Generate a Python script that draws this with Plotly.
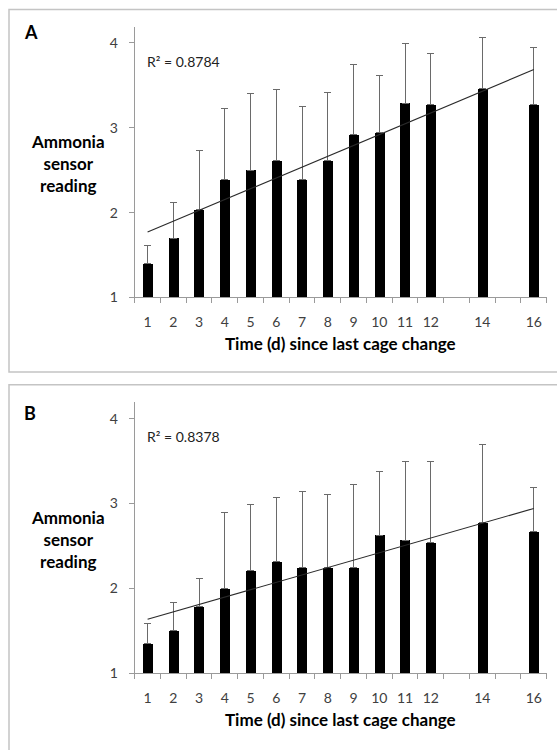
import numpy as np
import plotly.graph_objects as go

# ---- data ----
days = [1, 2, 3, 4, 5, 6, 7, 8, 9, 10, 11, 12, 14, 16]
tick_labels = [str(d) for d in days]

a_mean = [1.40, 1.70, 2.04, 2.39, 2.50, 2.61, 2.39, 2.61, 2.92, 2.94, 3.29, 3.27, 3.46, 3.27]
a_top = [1.61, 2.12, 2.73, 3.23, 3.40, 3.45, 3.25, 3.42, 3.75, 3.62, 3.99, 3.87, 4.06, 3.95]

b_mean = [1.35, 1.50, 1.79, 2.00, 2.21, 2.32, 2.25, 2.25, 2.25, 2.63, 2.57, 2.54, 2.78, 2.67]
b_top = [1.59, 1.83, 2.12, 2.90, 2.99, 3.07, 3.14, 3.11, 3.23, 3.38, 3.49, 3.50, 3.70, 3.19]

a_r2 = "R² = 0.8784"
b_r2 = "R² = 0.8378"
panel_labels = ["A", "B"]
x_title = "Time (d) since last cage change"
y_title = "Ammonia<br>sensor<br>reading"

W, H = 557, 750
FONT = "Lato"
TICKC = "#404040"
AXC = "#9a9a9a"
ERRC = "#6a6a6a"


def px(x):
    return x / W


def py(y):
    return 1 - y / H


fig = go.Figure()

panels = [
    dict(mean=a_mean, top=a_top, r2=a_r2, lab=panel_labels[0], xa="x", ya="y",
         dom_y=[py(300.7), py(27.0)], yr=[1, 4.19],
         lab_y=32, r2_y=62, ytitle_y=165, xtitle_y=347),
    dict(mean=b_mean, top=b_top, r2=b_r2, lab=panel_labels[1], xa="x2", ya="y2",
         dom_y=[py(680.7), py(406.0)], yr=[1, 4.2],
         lab_y=417, r2_y=441, ytitle_y=545, xtitle_y=727),
]

shapes = []
annotations = []
for i, p in enumerate(panels):
    err = [t - m for t, m in zip(p["top"], p["mean"])]
    fig.add_trace(go.Bar(
        x=days, y=p["mean"], base=0, width=0.39,
        marker=dict(color="black", line=dict(width=0)),
        error_y=dict(type="data", symmetric=False, array=err,
                     arrayminus=[0] * len(err), color=ERRC,
                     thickness=1, width=3.5),
        xaxis=p["xa"], yaxis=p["ya"], showlegend=False, hoverinfo="skip",
    ))
    # linear trendline (least squares of the plotted data)
    slope, icpt = np.polyfit(days, p["mean"], 1)
    xs = [days[0], days[-1]]
    fig.add_trace(go.Scatter(
        x=xs, y=[icpt + slope * v for v in xs], mode="lines",
        line=dict(color="#2a2a2a", width=1.1),
        xaxis=p["xa"], yaxis=p["ya"], showlegend=False, hoverinfo="skip",
    ))

    xkey = "xaxis" if i == 0 else "xaxis2"
    ykey = "yaxis" if i == 0 else "yaxis2"
    fig.layout[xkey] = dict(
        domain=[px(134.7), px(546.7)], anchor=p["ya"], range=[0.5, 16.5],
        showline=True, linecolor=AXC, linewidth=1, showgrid=False, zeroline=False,
        tickmode="array", tickvals=days, ticktext=tick_labels,
        ticks="", ticklabelstandoff=12,
        tickfont=dict(family=FONT, size=14, color=TICKC),
        minor=dict(tickmode="linear", tick0=0.5, dtick=1, ticks="outside",
                   ticklen=5, tickcolor=AXC, tickwidth=1, showgrid=False),
        fixedrange=True,
    )
    fig.layout[ykey] = dict(
        domain=p["dom_y"], anchor=p["xa"], range=p["yr"],
        showline=True, linecolor=AXC, linewidth=1, showgrid=False, zeroline=False,
        tickmode="array", tickvals=[1, 2, 3, 4], ticks="outside", ticklen=5,
        tickcolor=AXC, ticklabelstandoff=8,
        tickfont=dict(family=FONT, size=14, color=TICKC),
        fixedrange=True,
    )

    annotations += [
        dict(text="<b>" + p["lab"] + "</b>", x=px(22), y=py(p["lab_y"]),
             xref="paper", yref="paper", xanchor="left", yanchor="middle",
             showarrow=False, font=dict(family=FONT, size=18, color="black")),
        dict(text=p["r2"], x=px(145), y=py(p["r2_y"]),
             xref="paper", yref="paper", xanchor="left", yanchor="middle",
             showarrow=False, font=dict(family=FONT, size=14, color="#222")),
        dict(text="<b>" + y_title + "</b>", x=px(68), y=py(p["ytitle_y"]),
             xref="paper", yref="paper", xanchor="center", yanchor="middle",
             align="center", showarrow=False,
             font=dict(family=FONT, size=17, color="black")),
        dict(text="<b>" + x_title + "</b>", x=px(340), y=py(p["xtitle_y"]),
             xref="paper", yref="paper", xanchor="center", yanchor="middle",
             showarrow=False, font=dict(family=FONT, size=17, color="black")),
    ]

shapes.append(dict(type="rect", xref="paper", yref="paper",
                   x0=px(9), x1=1.03, y0=py(376), y1=py(9.5),
                   line=dict(color="#c4c4c4", width=1.5), layer="below"))
shapes.append(dict(type="rect", xref="paper", yref="paper",
                   x0=px(9), x1=1.03, y0=-0.03, y1=py(389),
                   line=dict(color="#c4c4c4", width=1.5), layer="below"))

fig.update_layout(
    width=W, height=H, margin=dict(l=0, r=0, t=0, b=0),
    paper_bgcolor="white", plot_bgcolor="white",
    shapes=shapes, annotations=annotations, showlegend=False,
    bargap=0,
)

fig.write_html(
    "out.html",
    config={"displayModeBar": False},
    post_script="document.body.style.margin='0';document.body.style.overflow='hidden';",
)
